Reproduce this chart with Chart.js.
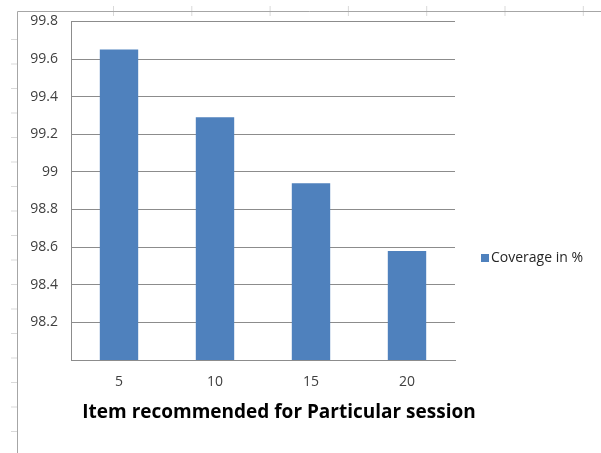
<!DOCTYPE html>
<html>
<head>
<meta charset="utf-8">
<script src="https://cdn.jsdelivr.net/npm/chart.js@4.4.1/dist/chart.umd.min.js"></script>
<style>
  html, body { margin: 0; padding: 0; background: #ffffff; }
  #wrap { position: relative; width: 601px; height: 453px; }
</style>
</head>
<body>
<div id="wrap"><canvas id="chart" width="601" height="453"></canvas></div>
<script>
// Items recommended per session and the resulting coverage
const categories = ['5', '10', '15', '20'];
const coverage = [99.65, 99.29, 98.94, 98.58];
const seriesLabel = 'Coverage in %';
const axisTitle = 'Item recommended for Particular session';
const yMin = 98, yMax = 99.8, yStep = 0.2;

const FONT = "'Open Sans', 'DejaVu Sans', sans-serif";
const BAR_COLOR = '#4F81BD';
const GRID_COLOR = '#8c8c8c';

// Faint worksheet frame behind the chart (sheet edge with cell ticks)
const sheetFrame = {
  id: 'sheetFrame',
  beforeDraw(chart) {
    const ctx = chart.ctx;
    ctx.save();
    ctx.strokeStyle = '#d9d9d9';
    ctx.lineWidth = 1;
    for (let x = 113.5; x < 601; x += 78.3) {
      ctx.beginPath(); ctx.moveTo(x, 6); ctx.lineTo(x, 16); ctx.stroke();
    }
    for (let y = 39.5; y < 453; y += 24.5) {
      ctx.beginPath(); ctx.moveTo(11, y); ctx.lineTo(17, y); ctx.stroke();
    }
    ctx.strokeStyle = '#a6a6a6';
    ctx.beginPath();
    ctx.moveTo(601, 11.5); ctx.lineTo(17.5, 11.5); ctx.lineTo(17.5, 453);
    ctx.stroke();
    ctx.restore();
  }
};

// Legend beside the plot area and the category-axis caption below it
const sideLegend = {
  id: 'sideLegend',
  afterDraw(chart) {
    const ctx = chart.ctx;
    const area = chart.chartArea;
    const xs = chart.scales.x;
    const ds = chart.data.datasets[0];
    const x = area.right + 26;
    const y = 258;
    ctx.save();
    ctx.fillStyle = ds.backgroundColor;
    ctx.fillRect(x, y - 4, 8, 8);
    ctx.fillStyle = '#262626';
    ctx.font = '14px ' + FONT;
    ctx.textBaseline = 'middle';
    ctx.textAlign = 'left';
    ctx.fillText(ds.label, x + 10, y);

    ctx.fillStyle = '#000000';
    ctx.font = 'bold 19px ' + FONT;
    ctx.textAlign = 'center';
    ctx.fillText(axisTitle, (xs.left + xs.right) / 2 + 16, xs.top + 53);
    ctx.restore();
  }
};

new Chart(document.getElementById('chart'), {
  type: 'bar',
  data: {
    labels: categories,
    datasets: [{
      label: seriesLabel,
      data: coverage,
      backgroundColor: BAR_COLOR,
      borderWidth: 0,
      barPercentage: 0.4,
      categoryPercentage: 1.0
    }]
  },
  options: {
    responsive: false,
    animation: false,
    devicePixelRatio: 1,
    layout: { padding: { left: 0, right: 146, top: 21, bottom: 0 } },
    plugins: {
      legend: { display: false },
      tooltip: { enabled: false }
    },
    scales: {
      x: {
        grid: { display: false, drawTicks: false },
        border: { display: true, color: GRID_COLOR, width: 1 },
        ticks: {
          color: '#404040',
          font: { family: FONT, size: 14 },
          padding: 14
        },
        afterFit(scale) { scale.height = 93; }
      },
      y: {
        min: yMin,
        max: yMax,
        grid: { color: GRID_COLOR, lineWidth: 1, drawTicks: false },
        border: { display: true, color: GRID_COLOR, width: 1 },
        ticks: {
          stepSize: yStep,
          color: '#404040',
          font: { family: FONT, size: 14 },
          padding: 13,
          callback(value) {
            if (Math.abs(value - yMin) < 1e-9) return '';
            return String(Number(value.toFixed(1)));
          }
        },
        afterFit(scale) { scale.width = 71; }
      }
    }
  },
  plugins: [sheetFrame, sideLegend]
});
</script>
</body>
</html>
